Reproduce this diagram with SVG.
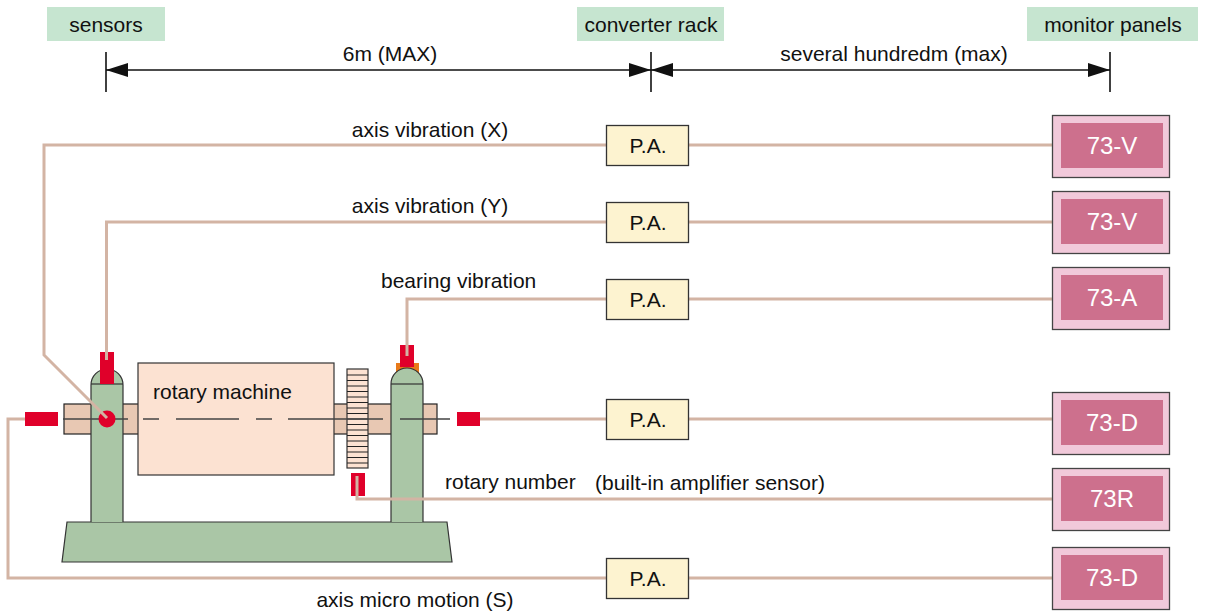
<svg xmlns="http://www.w3.org/2000/svg" width="1207" height="616" viewBox="0 0 1207 616">
  <style>
    text { font-family: "Liberation Sans", Arial, sans-serif; fill: #111; }
    .lbl { font-size: 21px; }
    .mid { text-anchor: middle; }
    .hdr { fill: #c6e5d0; }
    .wire { fill: none; stroke: #d3b4a4; stroke-width: 3; }
    .dim { stroke: #111; stroke-width: 1.6; fill: none; }
    .pa { fill: #fdf3d0; stroke: #333; stroke-width: 1.3; }
    .mon-o { fill: #f1c9da; stroke: #444; stroke-width: 1.3; }
    .mon-i { fill: #cd708d; }
    .mon-t { font-size: 24px; fill: #fff; text-anchor: middle; }
    .green { fill: #aac6a6; stroke: #333; stroke-width: 1.2; }
    .body { fill: #fce2d2; stroke: #333; stroke-width: 1.2; }
    .shaft { fill: #e8c8b3; stroke: #222; stroke-width: 1.2; }
    .red { fill: #e0002a; }
    .axis { stroke: #444; stroke-width: 1.3; fill: none; }
  </style>
  <defs>
    <marker id="ah" viewBox="0 0 22 14" refX="22" refY="7" markerWidth="22" markerHeight="14" markerUnits="userSpaceOnUse" orient="auto-start-reverse">
      <path d="M0,0 L22,7 L0,14 Z" fill="#111"/>
    </marker>
  </defs>

  <!-- column headers -->
  <g id="hdr-sensors">
    <rect class="hdr" x="47" y="7" width="118" height="34"/>
    <text class="lbl mid" x="106" y="32">sensors</text>
  </g>
  <g id="hdr-converter">
    <rect class="hdr" x="577" y="7" width="147" height="34"/>
    <text class="lbl mid" x="651" y="32">converter rack</text>
  </g>
  <g id="hdr-monitor">
    <rect class="hdr" x="1027" y="7" width="171" height="34"/>
    <text class="lbl mid" x="1113" y="32">monitor panels</text>
  </g>

  <!-- distance dimensions -->
  <g id="dimensions">
    <line class="dim" x1="106" y1="52" x2="106" y2="92"/>
    <line class="dim" x1="651" y1="52" x2="651" y2="92"/>
    <line class="dim" x1="1110" y1="52" x2="1110" y2="92"/>
    <line class="dim" x1="106" y1="70" x2="651" y2="70" marker-start="url(#ah)" marker-end="url(#ah)"/>
    <line class="dim" x1="651" y1="70" x2="1110" y2="70" marker-start="url(#ah)" marker-end="url(#ah)"/>
    <text class="lbl mid" x="390" y="61">6m (MAX)</text>
    <text class="lbl mid" x="894" y="61">several hundredm (max)</text>
  </g>

  <!-- rotary machine on its stand -->
  <g id="machine">
    <polygon class="green" points="67,522 447,522 452,562 62,562"/>
    <rect class="shaft" x="64" y="404" width="373" height="30"/>
    <rect x="396" y="363" width="23" height="12" fill="#e87a1a"/>
    <path class="green" d="M91,522 V385 A16,16 0 0 1 123,385 V522"/>
    <line class="green" x1="91" y1="384" x2="123" y2="384"/>
    <path class="green" d="M391,522 V384 A16,16 0 0 1 423,384 V522"/>
    <line class="green" x1="391" y1="384" x2="423" y2="384"/>
    <rect class="body" x="138" y="363" width="196" height="112"/>
    <text class="lbl" x="153" y="399">rotary machine</text>
    <rect class="body" x="347" y="369" width="21" height="99"/>
    <path stroke="#222" stroke-width="1" d="M347,375H368M347,380.5H368M347,386H368M347,391.5H368M347,397H368M347,402.5H368M347,408H368M347,413.5H368M347,419H368M347,424.5H368M347,430H368M347,435.5H368M347,441H368M347,446.5H368M347,452H368M347,457.5H368M347,463H368"/>
    <path class="axis" d="M63,419H128M143,419H159M176,419H239M256,419H272M288,419H383M400,419H450"/>
  </g>

  <!-- sensor heads -->
  <g id="sensors">
    <rect class="red" x="100" y="352" width="14" height="32"/>
    <circle class="red" cx="107" cy="419" r="8.5"/>
    <rect class="red" x="400" y="345" width="14" height="22"/>
    <rect class="red" x="25" y="412" width="33" height="14"/>
    <rect class="red" x="457" y="412" width="23" height="14"/>
    <rect class="red" x="351" y="473" width="14" height="23"/>
  </g>

  <!-- signal cables -->
  <g id="connectors">
    <polyline class="wire" points="606,145 44,145 44,355 107,418"/>
    <line class="wire" x1="688" y1="145" x2="1061" y2="145"/>
    <polyline class="wire" points="606,222 106.5,222 106.5,360"/>
    <line class="wire" x1="688" y1="222" x2="1061" y2="222"/>
    <polyline class="wire" points="606,299 407,299 407,356"/>
    <line class="wire" x1="688" y1="299" x2="1061" y2="299"/>
    <line class="wire" x1="480" y1="419" x2="606" y2="419"/>
    <line class="wire" x1="688" y1="419" x2="1061" y2="419"/>
    <polyline class="wire" points="357,476 357,499 1061,499"/>
    <polyline class="wire" points="25,419 8,419 8,578 606,578"/>
    <line class="wire" x1="688" y1="578" x2="1061" y2="578"/>
  </g>

  <!-- cable labels -->
  <g id="labels">
    <text class="lbl mid" x="430" y="137">axis vibration (X)</text>
    <text class="lbl mid" x="430" y="213">axis vibration (Y)</text>
    <text class="lbl" x="381" y="288">bearing vibration</text>
    <text class="lbl" x="445" y="489">rotary number</text>
    <text class="lbl" x="595" y="490">(built-in amplifier sensor)</text>
    <text class="lbl mid" x="415" y="607">axis micro motion (S)</text>
  </g>

  <!-- preamplifiers -->
  <g id="pa-x"><rect class="pa" x="606.5" y="125.5" width="82" height="40"/><text class="lbl mid" x="648" y="153">P.A.</text></g>
  <g id="pa-y"><rect class="pa" x="606.5" y="202.5" width="82" height="40"/><text class="lbl mid" x="648" y="230">P.A.</text></g>
  <g id="pa-bearing"><rect class="pa" x="606.5" y="279.5" width="82" height="40"/><text class="lbl mid" x="648" y="307">P.A.</text></g>
  <g id="pa-disp"><rect class="pa" x="606.5" y="399.5" width="82" height="40"/><text class="lbl mid" x="648" y="427">P.A.</text></g>
  <g id="pa-micro"><rect class="pa" x="606.5" y="558.5" width="82" height="40"/><text class="lbl mid" x="648" y="586">P.A.</text></g>

  <!-- monitor panels -->
  <g id="mon-1"><rect class="mon-o" x="1052.5" y="115.5" width="117" height="62"/><rect class="mon-i" x="1061" y="123" width="102" height="45"/><text class="mon-t" x="1112" y="154">73-V</text></g>
  <g id="mon-2"><rect class="mon-o" x="1052.5" y="191.5" width="117" height="62"/><rect class="mon-i" x="1061" y="199" width="102" height="45"/><text class="mon-t" x="1112" y="230">73-V</text></g>
  <g id="mon-3"><rect class="mon-o" x="1052.5" y="267.5" width="117" height="62"/><rect class="mon-i" x="1061" y="275" width="102" height="45"/><text class="mon-t" x="1112" y="306">73-A</text></g>
  <g id="mon-4"><rect class="mon-o" x="1052.5" y="392.5" width="117" height="62"/><rect class="mon-i" x="1061" y="400" width="102" height="45"/><text class="mon-t" x="1112" y="431">73-D</text></g>
  <g id="mon-5"><rect class="mon-o" x="1052.5" y="468.5" width="117" height="62"/><rect class="mon-i" x="1061" y="476" width="102" height="45"/><text class="mon-t" x="1112" y="507">73R</text></g>
  <g id="mon-6"><rect class="mon-o" x="1052.5" y="547.5" width="117" height="62"/><rect class="mon-i" x="1061" y="555" width="102" height="45"/><text class="mon-t" x="1112" y="586">73-D</text></g>
</svg>
